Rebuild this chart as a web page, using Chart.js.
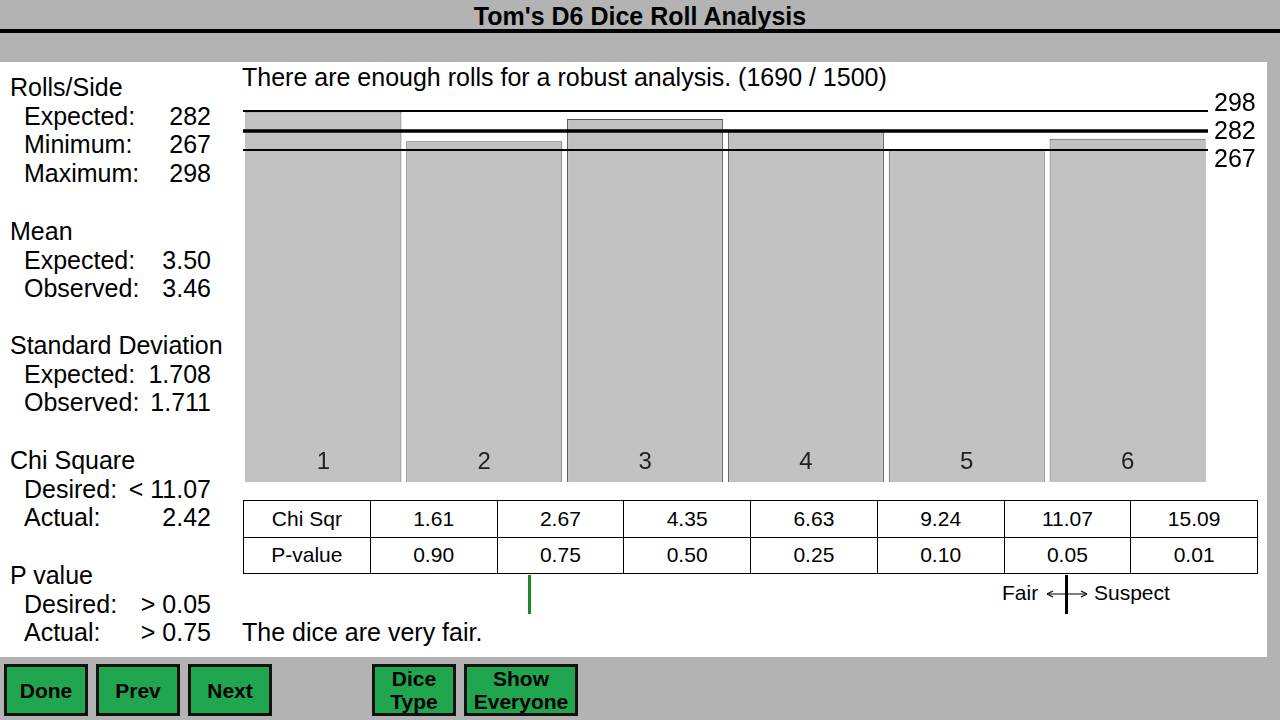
<!DOCTYPE html>
<html>
<head>
<meta charset="utf-8">
<script src="https://cdn.jsdelivr.net/npm/chart.js@4.4.1/dist/chart.umd.min.js"></script>
<style>
  body { margin: 0; width: 1280px; height: 720px; background: #b3b3b3; font-family: "Liberation Sans", Arial, sans-serif; position: relative; overflow: hidden; }
  #title { position: absolute; left: 0; top: 2px; width: 1280px; text-align: center; font-weight: bold; font-size: 25px; color: #000; }
  #titleLine { position: absolute; left: 0; top: 29px; width: 1280px; height: 4px; background: #000; }
  #panel { position: absolute; left: 0; top: 62px; width: 1267px; height: 595px; background: #fff; }
  .stats { position: absolute; left: 10px; font-size: 25px; color: #000; line-height: 28.7px; }
  .stats .row { position: relative; width: 201px; height: 28.7px; white-space: nowrap; }
  .stats .row span.l { position: absolute; left: 14px; }
  .stats .row span.v { position: absolute; right: 0; }
  #status { position: absolute; left: 242px; top: 63px; font-size: 25px; }
  #verdict { position: absolute; left: 242px; top: 618px; font-size: 25px; }
  #chartBox { position: absolute; left: 240px; top: 85px; width: 1030px; height: 405px; }
  table { position: absolute; left: 243px; top: 500px; width: 1015px; table-layout: fixed; border-collapse: collapse; font-size: 21px; }
  td { border: 1.5px solid #000; height: 35.5px; text-align: center; padding: 0; }
  #greenMark { position: absolute; left: 528px; top: 575px; width: 3px; height: 39px; background: #1b8a25; }
  #blackMark { position: absolute; left: 1065px; top: 575px; width: 3px; height: 39px; background: #000; }
  #fair { position: absolute; left: 1002px; top: 581px; font-size: 21px; }
  #suspect { position: absolute; left: 1094px; top: 581px; font-size: 21px; }
  #arrows { position: absolute; left: 1045px; top: 587px; }
  .btn { position: absolute; top: 664px; height: 46px; background: #20a64f; border: 3px solid #111; font-weight: bold; font-size: 21px; text-align: center; display: flex; align-items: center; justify-content: center; line-height: 23px; color: #000; }
</style>
</head>
<body>
<div id="title">Tom's D6 Dice Roll Analysis</div>
<div id="titleLine"></div>
<div id="panel"></div>

<div id="status">There are enough rolls for a robust analysis. (1690 / 1500)</div>
<div id="chartBox"><canvas id="diceChart"></canvas></div>
<table id="chiTable"></table>
<div id="greenMark"></div>
<div id="fair">Fair</div>
<svg id="arrows" width="44" height="14" viewBox="0 0 44 14">
  <line x1="2" y1="7" x2="42" y2="7" stroke="#000" stroke-width="1.2"/>
  <path d="M2 7 L8 4 M2 7 L8 10 M42 7 L36 4 M42 7 L36 10" stroke="#000" stroke-width="1.2" fill="none"/>
</svg>
<div id="blackMark"></div>
<div id="suspect">Suspect</div>
<div id="verdict">The dice are very fair.</div>

<div class="btn" style="left:4px;width:78px;">Done</div>
<div class="btn" style="left:96px;width:78px;">Prev</div>
<div class="btn" style="left:188px;width:78px;">Next</div>
<div class="btn" style="left:372px;width:78px;">Dice<br>Type</div>
<div class="btn" style="left:464px;width:108px;">Show<br>Everyone</div>

<script>
// roll counts per side
const sides = ['1', '2', '3', '4', '5', '6'];
const rollCounts = [298, 274, 292, 283, 267, 276];

// reference lines: max, expected, min
const refValues = [298, 282, 267];
const refLabels = ['298', '282', '267'];

// chi square table
const chiSqr = ['1.61', '2.67', '4.35', '6.63', '9.24', '11.07', '15.09'];
const pValues = ['0.90', '0.75', '0.50', '0.25', '0.10', '0.05', '0.01'];

// left side stats
const statGroups = [
    { title: 'Rolls/Side', rows: [['Expected:', '282'], ['Minimum:', '267'], ['Maximum:', '298']] },
    { title: 'Mean', rows: [['Expected:', '3.50'], ['Observed:', '3.46']] },
    { title: 'Standard Deviation', rows: [['Expected:', '1.708'], ['Observed:', '1.711']] },
    { title: 'Chi Square', rows: [['Desired:', '< 11.07'], ['Actual:', '2.42']] },
    { title: 'P value', rows: [['Desired:', '> 0.05'], ['Actual:', '> 0.75']] }
];
const groupTops = [73, 217, 331, 446, 561];

// build stats text
statGroups.forEach((g, i) => {
    const box = document.createElement('div');
    box.className = 'stats';
    box.style.top = groupTops[i] + 'px';
    let html = `<div class="row">${g.title}</div>`;
    g.rows.forEach(r => {
        html += `<div class="row"><span class="l">${r[0]}</span><span class="v">${r[1].replace('<', '&lt;').replace('>', '&gt;')}</span></div>`;
    });
    box.innerHTML = html;
    document.body.appendChild(box);
});

// build table
const table = document.getElementById('chiTable');
table.innerHTML = `
    <tr><td>Chi Sqr</td>${chiSqr.map(v => `<td>${v}</td>`).join('')}</tr>
    <tr><td>P-value</td>${pValues.map(v => `<td>${v}</td>`).join('')}</tr>
`;

// draws the reference lines and the side numbers inside the bars
const overlayPlugin = {
    id: 'overlay',
    afterDatasetsDraw(chart) {
        const { ctx, chartArea, scales: { x, y } } = chart;
        ctx.save();
        // side numbers near bar bottoms
        ctx.fillStyle = '#222';
        ctx.font = '24px "Liberation Sans", Arial, sans-serif';
        ctx.textAlign = 'center';
        ctx.textBaseline = 'middle';
        sides.forEach((s, i) => {
            ctx.fillText(s, x.getPixelForValue(i), chartArea.bottom - 20);
        });
        // reference lines
        const widths = [2, 3.5, 2];
        const labelShift = [-7, 1, 10];
        ctx.strokeStyle = '#000';
        ctx.fillStyle = '#000';
        ctx.font = '25px "Liberation Sans", Arial, sans-serif';
        ctx.textAlign = 'left';
        refValues.forEach((v, i) => {
            const py = Math.round(y.getPixelForValue(v));
            ctx.lineWidth = widths[i];
            ctx.beginPath();
            ctx.moveTo(chartArea.left, py);
            ctx.lineTo(chartArea.right, py);
            ctx.stroke();
            ctx.fillText(refLabels[i], chartArea.right + 6, py + labelShift[i]);
        });
        ctx.restore();
    }
};

const ctx = document.getElementById('diceChart').getContext('2d');
const diceChart = new Chart(ctx, {
    type: 'bar',
    data: {
        labels: sides,
        datasets: [{
            label: 'Rolls',
            data: rollCounts,
            backgroundColor: '#c2c2c2',
            borderColor: '#555',
            borderWidth: 1,
            categoryPercentage: 1,
            barPercentage: 0.97
        }]
    },
    options: {
        responsive: true,
        maintainAspectRatio: false,
        animation: false,
        layout: { padding: { left: 3, right: 62, top: 24, bottom: 8 } },
        plugins: { legend: { display: false }, tooltip: { enabled: false } },
        scales: {
            x: { display: false },
            y: { display: false, min: 0, max: 300 }
        }
    },
    plugins: [overlayPlugin]
});
</script>
</body>
</html>
